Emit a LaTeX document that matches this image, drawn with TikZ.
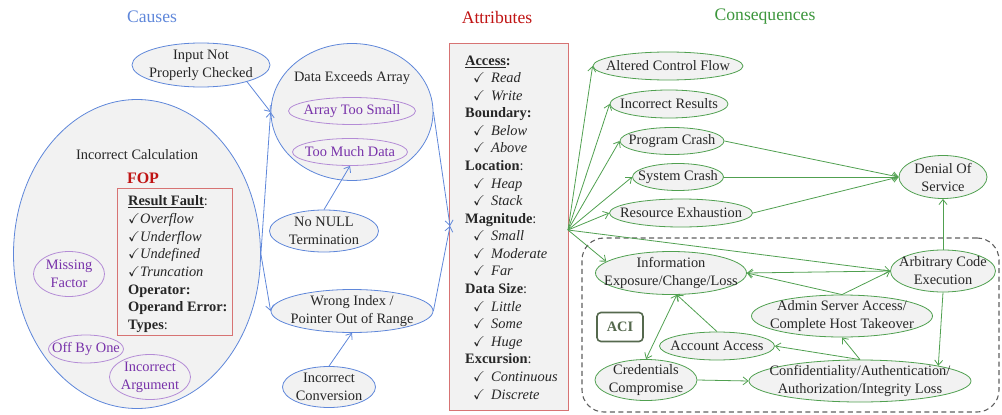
\documentclass[tikz,border=0pt]{standalone}
\usepackage{amssymb}
\usepackage{fontspec}
\setmainfont{Liberation Serif}
\usetikzlibrary{arrows.meta,shapes.geometric}
\definecolor{cblue}{RGB}{95,135,218}
\definecolor{cpurp}{RGB}{180,140,214}
\definecolor{cptext}{RGB}{120,50,170}
\definecolor{cgreen}{RGB}{80,160,80}
\definecolor{cgtitle}{RGB}{60,150,60}
\definecolor{cred}{RGB}{192,20,20}
\definecolor{credbox}{RGB}{215,115,115}
\definecolor{cfill}{RGB}{242,242,242}
\definecolor{ctext}{RGB}{38,38,38}
\definecolor{cdash}{RGB}{95,95,95}
\definecolor{caci}{RGB}{85,105,78}
\newcommand{\attritem}[1]{\hspace*{8pt}$\checkmark$\hspace{6pt}\textit{#1}}
\newcommand{\fopitem}[1]{$\checkmark$\textit{#1}}
\begin{document}
\begin{tikzpicture}[x=1pt,y=-1pt,
  font=\fontsize{14.4}{18}\selectfont,
  ell/.style={ellipse, fill=cfill, inner sep=0pt, line width=0.8pt},
  bell/.style={ell, draw=cblue},
  pell/.style={ell, draw=cpurp},
  gell/.style={ell, draw=cgreen},
  txt/.style={align=center, text=ctext, inner sep=0pt},
  ptxt/.style={align=center, text=cptext, inner sep=0pt},
  ltxt/.style={anchor=base west, text=ctext, inner sep=0pt},
  ttl/.style={font=\fontsize{17.6}{20}\selectfont, inner sep=0pt},
  barrow/.style={draw=cblue, line width=0.8pt, -{Straight Barb[length=5pt,width=8pt]}},
  garrow/.style={draw=cgreen, line width=0.8pt, -{Straight Barb[length=5pt,width=8pt]}},
  gdarrow/.style={draw=cgreen, line width=0.8pt, {Straight Barb[length=5pt,width=8pt]}-{Straight Barb[length=5pt,width=8pt]}}
]
\useasboundingbox (0,0) rectangle (1002,415);

% titles
\node[ttl, text=cblue] (tcause) at (152,17) {Causes};
\node[ttl, text=cred] (tattr) at (497,17) {Attributes};
\node[ttl, text=cgtitle] (tcons) at (765,17) {Consequences};

% ---------------- Causes ----------------
\node[bell, minimum width=247pt, minimum height=309pt] (ic) at (137,254) {};
\node[txt] (icT) at (137,155) {Incorrect Calculation};
\node[inner sep=0pt, text=cred, font=\bfseries\fontsize{16}{18}\selectfont] (fop) at (143,178) {FOP};
\node[draw=credbox, line width=0.8pt, anchor=north west, minimum width=115pt, minimum height=147pt, inner sep=0pt] (fopbox) at (117,188) {};
\node[ltxt] (f1) at (128,205) {\textbf{\underline{Result Fault}}:};
\node[ltxt] (f2) at (128,223) {\fopitem{Overflow}};
\node[ltxt] (f3) at (128,241) {\fopitem{Underflow}};
\node[ltxt] (f4) at (128,258) {\fopitem{Undefined}};
\node[ltxt] (f5) at (128,276) {\fopitem{Truncation}};
\node[ltxt] (f6) at (128,294) {\textbf{Operator:}};
\node[ltxt] (f7) at (128,311) {\textbf{Operand Error:}};
\node[ltxt] (f8) at (128,329) {\textbf{Types}:};

\node[pell, minimum width=71pt, minimum height=45pt] (mf) at (69,274) {};
\node[ptxt] (mfT) at (mf) {Missing\\Factor};
\node[pell, minimum width=75pt, minimum height=28pt] (obo) at (86,349) {};
\node[ptxt] (oboT) at (obo) {Off By One};
\node[pell, minimum width=81pt, minimum height=45pt] (ia) at (150,377) {};
\node[ptxt] (iaT) at (ia) {Incorrect\\Argument};

\node[bell, minimum width=138pt, minimum height=44pt] (inp) at (201,65) {};
\node[txt] (inpT) at (inp) {Input Not\\Properly Checked};

\node[bell, minimum width=162pt, minimum height=137pt] (dea) at (352,112) {};
\node[txt] (deaT) at (352,78) {Data Exceeds Array};
\node[pell, minimum width=127pt, minimum height=27pt] (ats) at (352,111) {};
\node[ptxt] (atsT) at (ats) {Array Too Small};
\node[pell, minimum width=115pt, minimum height=27pt] (tmd) at (350,152) {};
\node[ptxt] (tmdT) at (tmd) {Too Much Data};

\node[bell, minimum width=109pt, minimum height=42pt] (nn) at (324,231) {};
\node[txt] (nnT) at (nn) {No NULL\\Termination};
\node[bell, minimum width=162pt, minimum height=43pt] (wi) at (352,311) {};
\node[txt] (wiT) at (wi) {Wrong Index /\\Pointer Out of Range};
\node[bell, minimum width=93pt, minimum height=41pt] (icv) at (329,387) {};
\node[txt] (icvT) at (icv) {Incorrect\\Conversion};

% ---------------- Attributes ----------------
\node[draw=credbox, fill=cfill, line width=0.8pt, anchor=north west, minimum width=119pt, minimum height=367pt, inner sep=0pt] (attr) at (449,43) {};
\coordinate (bsrc) at (450,226);
\coordinate (src) at (568,230);
\foreach \c [count=\i from 0] in {
  {\textbf{\underline{Access}:}},
  {\attritem{Read}},
  {\attritem{Write}},
  {\textbf{Boundary:}},
  {\attritem{Below}},
  {\attritem{Above}},
  {\textbf{Location}:},
  {\attritem{Heap}},
  {\attritem{Stack}},
  {\textbf{Magnitude}:},
  {\attritem{Small}},
  {\attritem{Moderate}},
  {\attritem{Far}},
  {\textbf{Data Size}:},
  {\attritem{Little}},
  {\attritem{Some}},
  {\attritem{Huge}},
  {\textbf{Excursion}:},
  {\attritem{Continuous}},
  {\attritem{Discrete}}}
  \node[ltxt] (at\i) at (465,65+17.58*\i) {\c};

% ---------------- Consequences ----------------
\node[draw=cdash, dashed, dash pattern=on 5pt off 3.5pt, line width=1.1pt, rounded corners=22pt, minimum width=417pt, minimum height=174pt, inner sep=0pt] (grp) at (790.5,325) {};

\node[gell, minimum width=150pt, minimum height=28pt] (acf) at (668,66) {};
\node[txt] (acfT) at (acf) {Altered Control Flow};
\node[gell, minimum width=118pt, minimum height=28pt] (ir) at (669,104) {};
\node[txt] (irT) at (ir) {Incorrect Results};
\node[gell, minimum width=104pt, minimum height=27pt] (pc) at (672,141) {};
\node[txt] (pcT) at (pc) {Program Crash};
\node[gell, minimum width=91pt, minimum height=27pt] (sc) at (678,177) {};
\node[txt] (scT) at (sc) {System Crash};
\node[gell, minimum width=143pt, minimum height=28pt] (re) at (681,213) {};
\node[txt] (reT) at (re) {Resource Exhaustion};
\node[gell, minimum width=88pt, minimum height=43pt] (dos) at (943,177) {};
\node[txt] (dosT) at (dos) {Denial Of\\Service};

\node[gell, minimum width=151pt, minimum height=43pt] (ie) at (671,273) {};
\node[txt] (ieT) at (ie) {Information\\Exposure/Change/Loss};
\node[gell, minimum width=105pt, minimum height=42pt] (ace) at (943,271) {};
\node[txt] (aceT) at (ace) {Arbitrary Code\\Execution};
\node[gell, minimum width=181pt, minimum height=42pt] (adm) at (842,316) {};
\node[txt] (admT) at (adm) {Admin Server Access/\\Complete Host Takeover};
\node[gell, minimum width=115pt, minimum height=28pt] (aa) at (717,346) {};
\node[txt] (aaT) at (aa) {Account Access};
\node[gell, minimum width=102pt, minimum height=41pt] (cred) at (646,380) {};
\node[txt] (credT) at (cred) {Credentials\\Compromise};
\node[gell, minimum width=222pt, minimum height=42pt] (conf) at (860,381) {};
\node[txt] (confT) at (conf) {Confidentiality/Authentication/\\Authorization/Integrity Loss};
\node[draw=caci, line width=1.6pt, rounded corners=4pt, fill=white, minimum width=46pt, minimum height=29pt, inner sep=0pt, text=caci, font=\bfseries\fontsize{14.4}{18}\selectfont] (aci) at (620,327) {ACI};

% ---------------- connectors ----------------
\draw[barrow] (inp.-20) -- (dea.west);
\draw[barrow] (ic.east) -- (dea.west);
\draw[barrow] (ic.east) -- (wi.west);
\draw[barrow] (nn.north) -- (tmd.south);
\draw[barrow] (icv.north) -- (wi.south);
\draw[barrow] (dea.east) -- (bsrc);
\draw[barrow] (wi.east) -- (bsrc);

\draw[garrow] (src) -- (acf.west);
\draw[garrow] (src) -- (ir.west);
\draw[garrow] (src) -- (pc.west);
\draw[garrow] (src) -- (sc.west);
\draw[garrow] (src) -- (re.west);
\draw[garrow] (src) -- (ie.170);
\draw[garrow] (src) -- (ace.west);

\draw[garrow] (pc.east) -- (dos.west);
\draw[garrow] (sc.east) -- (dos.west);
\draw[garrow] (re.east) -- (dos.west);
\draw[garrow] (ace.north) -- (dos.south);

\draw[garrow] (ace.west) -- (ie.east);
\draw[garrow] (adm.north) -- (ie.east);
\draw[garrow] (adm.north) -- (ace.west);
\draw[garrow] (ace.south) -- (conf.11);
\draw[garrow] (conf.north) -- (aa.east);
\draw[garrow] (conf.north) -- (adm.south);
\draw[garrow] (aa.north) -- (ie.-75);
\draw[gdarrow] (ie.-75) -- (cred.north);
\draw[garrow] (cred.east) -- (conf.west);
\end{tikzpicture}
\end{document}
